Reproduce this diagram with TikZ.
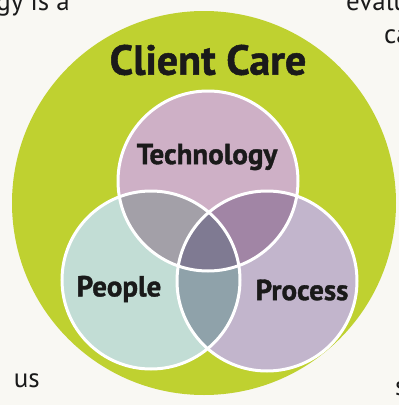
\documentclass[tikz,border=0pt]{standalone}
\usepackage{fontspec}
\setmainfont[BoldFeatures={FakeBold=1.2}]{PT Sans}
\definecolor{paper}{HTML}{F9F8F3}
\definecolor{lime}{HTML}{BFD130}
\definecolor{techfill}{HTML}{CEB0C6}
\definecolor{peoplefill}{HTML}{C2DDD5}
\definecolor{processfill}{HTML}{C2B5CC}
\definecolor{techpeople}{HTML}{A3A0A8}
\definecolor{techprocess}{HTML}{A185A5}
\definecolor{peopleprocess}{HTML}{8FA2AA}
\definecolor{allthree}{HTML}{7F7A92}
\definecolor{ink}{HTML}{1A1A1A}
\begin{document}
\begin{tikzpicture}[x=1pt,y=-1pt,
    venn/.style={font=\bfseries\fontsize{29}{34}\selectfont, text=ink},
    title/.style={font=\bfseries\fontsize{42}{48}\selectfont, text=ink},
    frag/.style={font=\fontsize{27}{32}\selectfont, text=ink, inner sep=0pt},
    rim/.style={draw=white, line width=3pt}]
    \useasboundingbox (0,0) rectangle (399,405);
    \fill[paper] (0,0) rectangle (399,405);

    % text cut off at the edges
    \node[frag, anchor=base east] (topleft) at (70,10) {gy is a};
    \node[frag, anchor=base west] (topright) at (346,10) {evalu};
    \node[frag, anchor=base west] (topright2) at (384,43) {ca};
    \node[frag, anchor=base east] (botleft) at (40,387) {us};
    \node[frag, anchor=base west] (botright) at (395,395) {s};

    \coordinate (care) at (204,203);
    \coordinate (tech) at (208,181);
    \coordinate (people) at (151,280);
    \coordinate (process) at (267,281);

    \fill[lime] (care) circle (192pt);
    \fill[techfill] (tech) circle (90pt);
    \fill[peoplefill] (people) circle (89pt);
    \fill[processfill] (process) circle (90pt);

    % overlaps
    \begin{scope}
        \clip (people) circle (89pt);
        \fill[peopleprocess] (process) circle (90pt);
    \end{scope}
    \begin{scope}
        \clip (tech) circle (90pt);
        \fill[techpeople] (people) circle (89pt);
        \fill[techprocess] (process) circle (90pt);
        \clip (people) circle (89pt);
        \fill[allthree] (process) circle (90pt);
    \end{scope}

    \draw[rim] (tech) circle (90pt);
    \draw[rim] (people) circle (89pt);
    \draw[rim] (process) circle (90pt);

    \node[title] (caretext) at (208,60) {Client Care};
    \node[venn] (techtext) at (207,157) {Technology};
    \node[venn] (peopletext) at (119,289) {People};
    \node[venn] (processtext) at (302,290) {Process};
\end{tikzpicture}
\end{document}
